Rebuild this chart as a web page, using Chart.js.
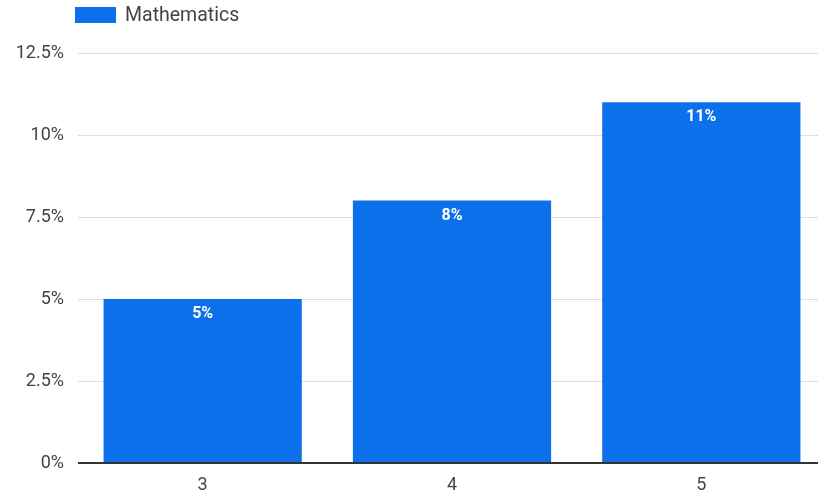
<!DOCTYPE html>
<html>
<head>
<meta charset="utf-8">
<script src="https://cdn.jsdelivr.net/npm/chart.js@4/dist/chart.umd.min.js"></script>
<style>
  html, body { margin: 0; padding: 0; background: #fff; overflow: hidden; }
  #wrap { width: 826px; height: 500px; }
</style>
</head>
<body>
<div id="wrap"><canvas id="c" width="826" height="500"></canvas></div>
<script>
const categories = ['3', '4', '5'];
const seriesName = 'Mathematics';
const mathValues = [5, 8, 11];
const yTickLabels = ['0%', '2.5%', '5%', '7.5%', '10%', '12.5%'];
const yTickValues = [0, 2.5, 5, 7.5, 10, 12.5];

const FONT = 'Roboto, "Noto Sans", sans-serif';

const barLabels = {
  id: 'barLabels',
  afterDatasetsDraw(chart) {
    const ctx = chart.ctx;
    const meta = chart.getDatasetMeta(0);
    ctx.save();
    ctx.fillStyle = '#ffffff';
    ctx.font = 'bold 16px ' + FONT;
    ctx.textAlign = 'center';
    ctx.textBaseline = 'middle';
    meta.data.forEach((bar, i) => {
      ctx.fillText(mathValues[i] + '%', bar.x, bar.y + 15);
    });
    ctx.restore();
  }
};

const topLegend = {
  id: 'topLegend',
  afterDraw(chart) {
    const ctx = chart.ctx;
    const ds = chart.data.datasets[0];
    ctx.save();
    ctx.fillStyle = ds.backgroundColor;
    ctx.fillRect(75, 7, 41, 16);
    ctx.fillStyle = '#444';
    ctx.font = '19.5px ' + FONT;
    ctx.textAlign = 'left';
    ctx.textBaseline = 'middle';
    ctx.fillText(ds.label, 125, 16);
    ctx.restore();
  }
};

new Chart(document.getElementById('c'), {
  type: 'bar',
  data: {
    labels: categories,
    datasets: [{
      label: seriesName,
      data: mathValues,
      backgroundColor: '#0c70ea',
      borderWidth: 0,
      categoryPercentage: 1.0,
      barPercentage: 0.795
    }]
  },
  options: {
    responsive: false,
    animation: false,
    devicePixelRatio: 1,
    layout: { padding: { left: 0, top: 53, right: 0, bottom: 0 } },
    plugins: {
      legend: { display: false },
      tooltip: { enabled: false },
      title: { display: false }
    },
    scales: {
      x: {
        grid: { display: false, drawTicks: false },
        border: { display: false },
        ticks: {
          color: '#444',
          padding: 12,
          font: { family: FONT, size: 18 }
        },
        afterFit(scale) { scale.height = 37; }
      },
      y: {
        min: 0,
        max: 12.5,
        afterBuildTicks(scale) { scale.ticks = yTickValues.map(v => ({ value: v })); },
        grid: {
          drawTicks: false,
          color: (c) => (c.tick && c.tick.value === 0) ? '#333333' : '#dedede',
          lineWidth: (c) => (c.tick && c.tick.value === 0) ? 2 : 1
        },
        border: { display: false },
        ticks: {
          color: '#444',
          padding: 14,
          font: { family: FONT, size: 18 },
          callback: (v) => yTickLabels[yTickValues.indexOf(v)]
        },
        afterFit(scale) { scale.width = 78; }
      }
    }
  },
  plugins: [barLabels, topLegend]
});
</script>
</body>
</html>
